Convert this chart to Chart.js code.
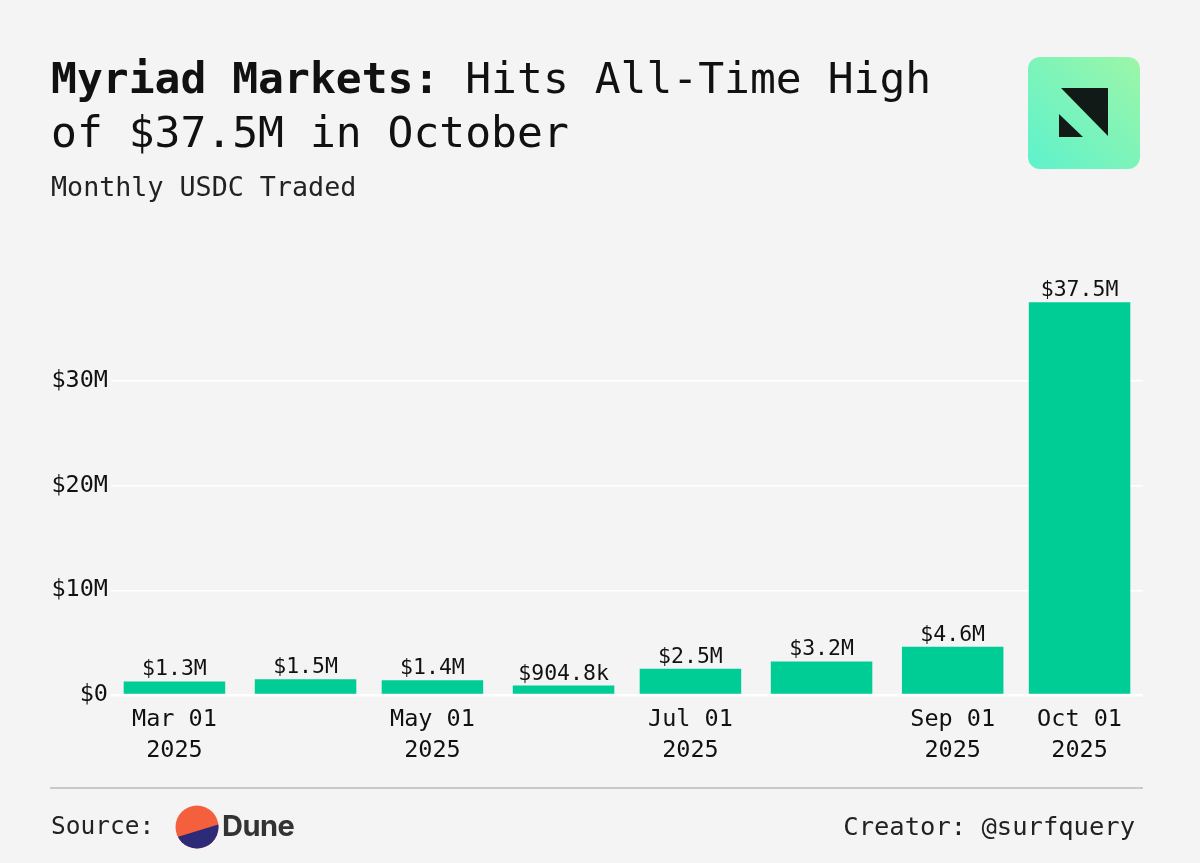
<!DOCTYPE html>
<html>
<head>
<meta charset="utf-8">
<script src="https://cdn.jsdelivr.net/npm/chart.js@4/dist/chart.umd.min.js"></script>
<style>
  html, body { margin: 0; padding: 0; background: #f4f4f4; }
  body { width: 1200px; height: 863px; position: relative; overflow: hidden; font-family: "DejaVu Sans Mono", monospace; color: #111; }
  #chart { position: absolute; left: 0; top: 0; }
  .title { position: absolute; left: 51px; top: 51px; font-size: 43px; line-height: 54px; white-space: nowrap; }
  .title b { font-weight: bold; }
  .subtitle { position: absolute; left: 51px; top: 170px; font-size: 26.7px; line-height: 34px; color: #222; }
  .logo { position: absolute; left: 1028px; top: 57px; }
  .rule { position: absolute; left: 50px; top: 787px; width: 1093px; height: 1.5px; background: #c9c9c9; }
  .source { position: absolute; left: 51px; top: 810px; font-size: 24.5px; line-height: 32px; color: #222; }
  .dune { position: absolute; left: 174px; top: 804px; }
  .dune-text { position: absolute; left: 222px; top: 808px; font-family: Inter, "Noto Sans", sans-serif; font-weight: bold; font-size: 29px; line-height: 36px; color: #333; letter-spacing: -0.5px; }
  .creator { position: absolute; right: 65px; top: 810px; font-size: 25.5px; line-height: 32px; color: #222; }
</style>
</head>
<body>
<canvas id="chart" width="1200" height="863"></canvas>

<div class="title"><b>Myriad Markets:</b> Hits All-Time High<br>of $37.5M in October</div>
<div class="subtitle">Monthly USDC Traded</div>

<svg class="logo" width="112" height="112" viewBox="0 0 112 112">
  <defs>
    <linearGradient id="lg" x1="1" y1="0" x2="0" y2="1">
      <stop offset="0" stop-color="#9cf6a8"/>
      <stop offset="1" stop-color="#5ef2cc"/>
    </linearGradient>
  </defs>
  <rect x="0" y="0" width="112" height="112" rx="12" fill="url(#lg)"/>
  <polygon points="33,31 80,31 80,79" fill="#111a16"/>
  <polygon points="31,57 31,80 55,80" fill="#111a16"/>
</svg>

<div class="rule"></div>
<div class="source">Source:</div>
<svg class="dune" width="46" height="46" viewBox="0 0 46 46">
  <clipPath id="dc"><circle cx="23" cy="23" r="21.5"/></clipPath>
  <g clip-path="url(#dc)">
    <rect x="0" y="0" width="46" height="46" fill="#f4603e"/>
    <polygon points="0,34 46,20 46,46 0,46" fill="#2d2a77"/>
  </g>
</svg>
<div class="dune-text">Dune</div>
<div class="creator">Creator: @surfquery</div>

<script>
"use strict";

// Monthly USDC traded (USD), one bar per month
const months = ["2025-03-01", "2025-04-01", "2025-05-01", "2025-06-01",
                "2025-07-01", "2025-08-01", "2025-09-01", "2025-10-01"];
const volumes = [1300000, 1500000, 1400000, 904800, 2500000, 3200000, 4600000, 37500000];

// x-axis ticks shown in the picture
const tickDates = ["2025-03-01", "2025-05-01", "2025-07-01", "2025-09-01", "2025-10-01"];
const tickLabels = [["Mar 01", "2025"], ["May 01", "2025"], ["Jul 01", "2025"],
                    ["Sep 01", "2025"], ["Oct 01", "2025"]];

// y-axis ticks
const yTicks = [0, 10000000, 20000000, 30000000];
const yTickLabels = ["$0", "$10M", "$20M", "$30M"];

const DAY = 86400000;
const t0 = Date.parse(months[0]);
const toDay = (d) => (Date.parse(d) - t0) / DAY;

const points = months.map((m, i) => ({ x: toDay(m), y: volumes[i] }));
const tickDays = tickDates.map(toDay);

function fmtMoney(v) {
  if (v >= 1e6) return "$" + (v / 1e6).toFixed(1) + "M";
  return "$" + (v / 1e3).toFixed(1) + "k";
}

const MONO = "'DejaVu Sans Mono', monospace";

// Value labels above each bar.
const barLabels = {
  id: "barLabels",
  afterDatasetsDraw(chart) {
    const { ctx } = chart;
    const meta = chart.getDatasetMeta(0);
    ctx.save();
    ctx.font = "21.5px " + MONO;
    ctx.fillStyle = "#111";
    ctx.textAlign = "center";
    ctx.textBaseline = "alphabetic";
    meta.data.forEach((bar, i) => {
      ctx.fillText(fmtMoney(volumes[i]), bar.x, bar.y - 6);
    });
    ctx.restore();
  },
};

new Chart(document.getElementById("chart"), {
  type: "bar",
  data: {
    datasets: [{
      data: points,
      backgroundColor: "#00cc96",
      borderWidth: 0,
      categoryPercentage: 0.8,
      barPercentage: 1,
    }],
  },
  options: {
    responsive: false,
    animation: false,
    layout: { padding: { left: 0, top: 276, right: 57, bottom: 0 } },
    plugins: { legend: { display: false }, tooltip: { enabled: false } },
    scales: {
      x: {
        type: "linear",
        min: -15,
        max: 229,
        offset: false,
        grid: { display: false },
        border: { display: false },
        afterBuildTicks: (s) => { s.ticks = tickDays.map((v) => ({ value: v })); },
        afterFit: (s) => { s.height = 168; },
        ticks: {
          autoSkip: false,
          maxRotation: 0,
          padding: 1,
          color: "#111",
          font: { family: MONO, size: 23.5, lineHeight: 1.32 },
          callback: (v) => tickLabels[tickDays.indexOf(v)],
        },
      },
      y: {
        min: 0,
        max: 40000000,
        border: { display: false },
        grid: {
          color: "#ffffff",
          lineWidth: (c) => (c.tick && c.tick.value === 0 ? 2.5 : 1.5),
          drawTicks: false,
        },
        afterBuildTicks: (s) => { s.ticks = yTicks.map((v) => ({ value: v })); },
        afterFit: (s) => { s.width = 111; },
        ticks: {
          padding: 3,
          color: "#111",
          font: { family: MONO, size: 23.5 },
          callback: (v) => yTickLabels[yTicks.indexOf(v)],
        },
      },
    },
  },
  plugins: [barLabels],
});
</script>
</body>
</html>
